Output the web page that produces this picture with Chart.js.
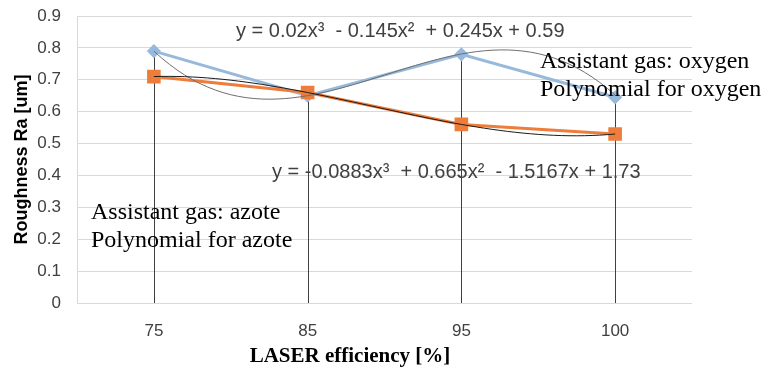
<!DOCTYPE html>
<html>
<head>
<meta charset="utf-8">
<script src="https://cdn.jsdelivr.net/npm/chart.js@4"></script>
<style>
  html, body { margin: 0; padding: 0; background: #ffffff; }
  #wrap { width: 777px; height: 372px; }
</style>
</head>
<body>
<div id="wrap"><canvas id="grafico" width="777" height="372"></canvas></div>
<script>
// Data
const categories = ['75', '85', '95', '100'];
const oxygenValues = [0.79, 0.65, 0.78, 0.645];
const azoteValues = [0.71, 0.66, 0.56, 0.53];
const yTicks = [0, 0.1, 0.2, 0.3, 0.4, 0.5, 0.6, 0.7, 0.8, 0.9];

// Polynomial trendline coefficients as printed on the chart (x^3, x^2, x, 1)
const azotePoly = [0.02, -0.145, 0.245, 0.59];
const oxygenPoly = [-0.0883, 0.665, -1.5167, 1.73];

function pontos(values) {
    return values.map((v, i) => ({ x: i + 1, y: v }));
}

function curva(coef) {
    const pts = [];
    for (let k = 0; k <= 60; k++) {
        const t = 1 + k * 3 / 60;
        pts.push({ x: t, y: coef[0] * t * t * t + coef[1] * t * t + coef[2] * t + coef[3] });
    }
    return pts;
}

const fonteSans = '"Liberation Sans", Arial, sans-serif';
const fonteSerif = '"Liberation Serif", "Times New Roman", serif';

// Drop lines, free text boxes and x title
const extras = {
    id: 'extras',
    beforeDatasetsDraw(chart) {
        const { ctx, scales: { x, y } } = chart;
        ctx.save();
        ctx.strokeStyle = '#404040';
        ctx.lineWidth = 1;
        categories.forEach((c, i) => {
            const top = Math.max(oxygenValues[i], azoteValues[i]);
            const px = Math.round(x.getPixelForValue(i + 1)) + 0.5;
            ctx.beginPath();
            ctx.moveTo(px, y.getPixelForValue(top));
            ctx.lineTo(px, y.getPixelForValue(0));
            ctx.stroke();
        });
        ctx.restore();
    },
    afterDraw(chart) {
        const { ctx } = chart;
        ctx.save();
        ctx.textBaseline = 'alphabetic';
        ctx.textAlign = 'left';
        ctx.fillStyle = '#404040';
        ctx.font = '20px ' + fonteSans;
        ctx.fillText('y = 0.02x³  - 0.145x²  + 0.245x + 0.59', 236, 37);
        ctx.fillText('y = -0.0883x³  + 0.665x²  - 1.5167x + 1.73', 272, 178);

        ctx.fillStyle = '#000000';
        ctx.font = '24px ' + fonteSerif;
        ctx.fillText('Assistant gas: azote', 91, 219);
        ctx.fillText('Polynomial for azote', 91, 247);
        ctx.fillText('Assistant gas: oxygen', 540, 68);
        ctx.fillText('Polynomial for oxygen', 540, 96);

        ctx.textAlign = 'center';
        ctx.font = 'bold 21px ' + fonteSerif;
        ctx.fillText('LASER efficiency [%]', 350, 362);
        ctx.restore();
    }
};

new Chart(document.getElementById('grafico'), {
    type: 'line',
    data: {
        datasets: [
            {
                label: 'Polynomial for azote',
                data: curva(azotePoly),
                borderColor: '#1a1a1a',
                borderWidth: 1,
                pointRadius: 0,
                tension: 0,
                order: 0
            },
            {
                label: 'Polynomial for oxygen',
                data: curva(oxygenPoly),
                borderColor: '#6e6e6e',
                borderWidth: 1,
                pointRadius: 0,
                tension: 0,
                order: 0
            },
            {
                label: 'Assistant gas: oxygen',
                data: pontos(oxygenValues),
                borderColor: '#97B9DC',
                backgroundColor: '#97B9DC',
                borderWidth: 3,
                pointStyle: 'rectRot',
                pointRadius: 5,
                order: 2
            },
            {
                label: 'Assistant gas: azote',
                data: pontos(azoteValues),
                borderColor: '#EE7D3B',
                backgroundColor: '#EE7D3B',
                borderWidth: 3,
                pointStyle: 'rect',
                pointRadius: 7.5,
                order: 1
            }
        ]
    },
    options: {
        responsive: false,
        animation: false,
        layout: { padding: { top: 16, right: 85, bottom: 0, left: 0 } },
        plugins: {
            legend: { display: false },
            tooltip: { enabled: false }
        },
        scales: {
            x: {
                type: 'linear',
                min: 0.5,
                max: 4.5,
                afterBuildTicks: (axis) => { axis.ticks = categories.map((c, i) => ({ value: i + 1 })); },
                afterFit: (axis) => { axis.height = 69; axis.paddingLeft = 0; axis.paddingRight = 0; },
                grid: { display: false },
                border: { display: false },
                ticks: {
                    color: '#404040',
                    font: { size: 17, family: fonteSans },
                    padding: 10,
                    callback: (v) => categories[v - 1]
                }
            },
            y: {
                min: 0,
                max: 0.9,
                afterBuildTicks: (axis) => { axis.ticks = yTicks.map(v => ({ value: v })); },
                afterFit: (axis) => { axis.width = 77; axis.paddingTop = 0; axis.paddingBottom = 0; },
                grid: { color: '#d9d9d9', lineWidth: 1, drawTicks: false },
                border: { color: '#d9d9d9' },
                ticks: {
                    color: '#404040',
                    font: { size: 17, family: fonteSans },
                    padding: 16,
                    callback: (v) => String(Math.round(v * 10) / 10)
                },
                title: {
                    display: true,
                    text: 'Roughness Ra [um]',
                    color: '#000000',
                    font: { size: 18, weight: 'bold', family: fonteSans },
                    padding: { top: 11, bottom: 0 }
                }
            }
        }
    },
    plugins: [extras]
});
</script>
</body>
</html>
